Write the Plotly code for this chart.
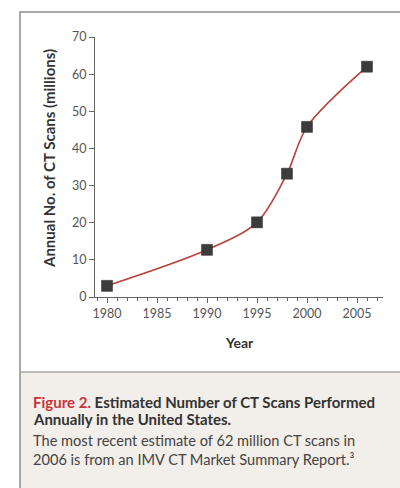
import plotly.graph_objects as go

# Estimated annual CT scans in the United States (millions)
years = [1980, 1990, 1995, 1998, 2000, 2006]
scans = [3.0, 12.7, 20.1, 33.2, 45.8, 62.0]

y_ticks = [0, 10, 20, 30, 40, 50, 60, 70]
x_ticks = [1980, 1985, 1990, 1995, 2000, 2005]

W, H = 400, 488
L, R, T, B = 95, 17, 37, 191
PW, PH = W - L - R, H - T - B

FONT = "Lato"
TXT = "#333333"


def px(x):
    return (x - L) / PW


def py(y):
    return (H - B - y) / PH


fig = go.Figure()

fig.add_trace(go.Scatter(
    x=years, y=scans,
    mode="lines+markers",
    line=dict(color="#b8423c", width=1.6, shape="spline", smoothing=0.9),
    marker=dict(symbol="square", size=11, color="#3c3c3c",
                line=dict(color="#2a2a2a", width=0.5)),
    hoverinfo="x+y",
    showlegend=False,
))

axis_common = dict(
    showgrid=False, zeroline=False, showline=True,
    linecolor="#666666", linewidth=1.2,
    ticks="outside", tickcolor="#666666", tickwidth=1.2,
    tickfont=dict(family=FONT, size=12.5, color="#555555"),
)

fig.update_xaxes(
    range=[1978.8, 2007.6], tickvals=x_ticks, ticklen=5,
    minor=dict(dtick=1, tick0=1980, ticks="outside", ticklen=3,
               tickcolor="#666666", tickwidth=1),
    **axis_common,
)
fig.update_yaxes(range=[0, 70], tickvals=y_ticks, ticklen=5, **axis_common)

shapes = [
    # caption panel
    dict(type="rect", xref="paper", yref="paper",
         x0=px(21), x1=px(400), y0=py(372), y1=py(488),
         fillcolor="#f2eee9", line=dict(width=0), layer="below"),
    # card frame
    dict(type="line", xref="paper", yref="paper",
         x0=px(20), x1=px(20), y0=py(11), y1=py(488),
         line=dict(color="#a8a8a8", width=2)),
    dict(type="line", xref="paper", yref="paper",
         x0=px(20), x1=px(400), y0=py(12), y1=py(12),
         line=dict(color="#a8a8a8", width=2)),
    dict(type="line", xref="paper", yref="paper",
         x0=px(20), x1=px(400), y0=py(372), y1=py(372),
         line=dict(color="#a8a8a8", width=1.5)),
]


def label(text, x, y, size, color=TXT, xanchor="left", angle=0):
    return dict(text=text, x=px(x), y=py(y), xref="paper", yref="paper",
                xanchor=xanchor, yanchor="middle", textangle=angle, align="left",
                showarrow=False, font=dict(family=FONT, size=size, color=color))


annotations = [
    label("<b>Annual No. of CT Scans (millions)</b>", 49, 159, 15,
          xanchor="center", angle=-90),
    label("<b>Year</b>", 239, 342, 14, xanchor="center"),
    label("<b><span style='color:#c8343a'>Figure 2.</span> "
          "Estimated Number of CT Scans Performed</b>", 31, 402, 15),
    label("<b>Annually in the United States.</b>", 31, 419, 15),
    label("The most recent estimate of 62 million CT scans in<br>"
          "2006 is from an IMV CT Market Summary Report.³",
          31, 450, 14.6, color="#444444"),
]

fig.update_layout(
    width=W, height=H,
    margin=dict(l=L, r=R, t=T, b=B, pad=0),
    paper_bgcolor="white", plot_bgcolor="white",
    shapes=shapes, annotations=annotations,
)

fig.write_html("out.html")
